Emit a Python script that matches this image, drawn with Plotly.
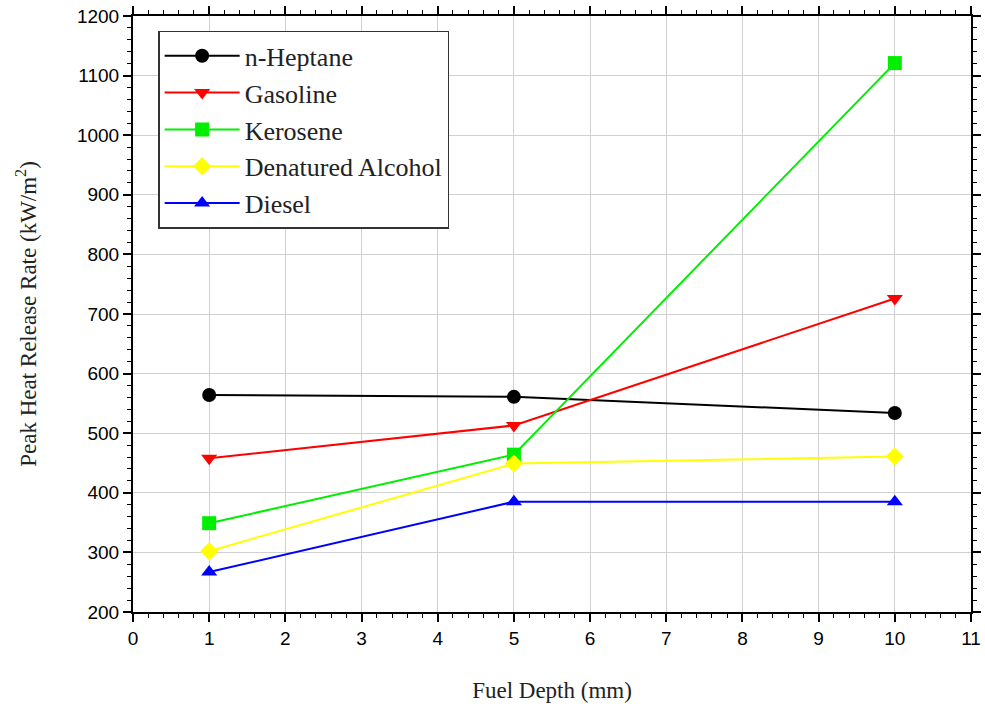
import plotly.graph_objects as go

depth = [1, 5, 10]
heptane = [564, 561, 534]
gasoline = [458, 513, 726]
kerosene = [349, 464, 1121]
alcohol = [302, 449, 461]
diesel = [267, 385, 385]

series = [
    ("n-Heptane", heptane, "black", "circle"),
    ("Gasoline", gasoline, "red", "triangle-down"),
    ("Kerosene", kerosene, "#00ee00", "square"),
    ("Denatured Alcohol", alcohol, "#ffff00", "diamond"),
    ("Diesel", diesel, "#0000ff", "triangle-up"),
]

fig = go.Figure()
for i, (name, vals, col, sym) in enumerate(series):
    fig.add_trace(go.Scatter(
        x=depth, y=vals, name=name, mode="lines+markers",
        line=dict(color=col, width=2),
        marker=dict(color=col, symbol=sym, size=14),
    ))

axis_common = dict(
    showline=True, linecolor="black", linewidth=2, mirror="ticks",
    ticks="outside", ticklen=8, tickwidth=2, tickcolor="black",
    showgrid=True, gridcolor="#d0d0d0", gridwidth=1, zeroline=False,
    tickfont=dict(family="Liberation Sans, Arial", size=19, color="black"),
)
title_font = dict(family="Liberation Serif, Times New Roman", size=23, color="#222")

fig.update_xaxes(
    range=[0, 11], dtick=1, tick0=0,
    minor=dict(ticks="outside", ticklen=4, dtick=0.2, tickcolor="black", tickwidth=1, showgrid=False),
    title=dict(text="Fuel Depth (mm)", font=title_font, standoff=34),
    **axis_common,
)
fig.update_yaxes(
    range=[200, 1200], dtick=100, tick0=200,
    minor=dict(ticks="outside", ticklen=4, dtick=20, tickcolor="black", tickwidth=1, showgrid=False),
    title=dict(text="Peak Heat Release Rate (kW/m<sup>2</sup>)", font=title_font, standoff=34),
    **axis_common,
)

fig.update_layout(
    width=985, height=715,
    margin=dict(l=133, r=4, t=16, b=103),
    plot_bgcolor="white", paper_bgcolor="white",
    legend=dict(
        x=0.03, y=0.975, xanchor="left", yanchor="top",
        bgcolor="white", bordercolor="#333", borderwidth=1.5,
        font=dict(family="Liberation Serif, Times New Roman", size=26, color="#222"),
        itemwidth=75,
    ),
    showlegend=True,
)

fig.write_html("out.html")
